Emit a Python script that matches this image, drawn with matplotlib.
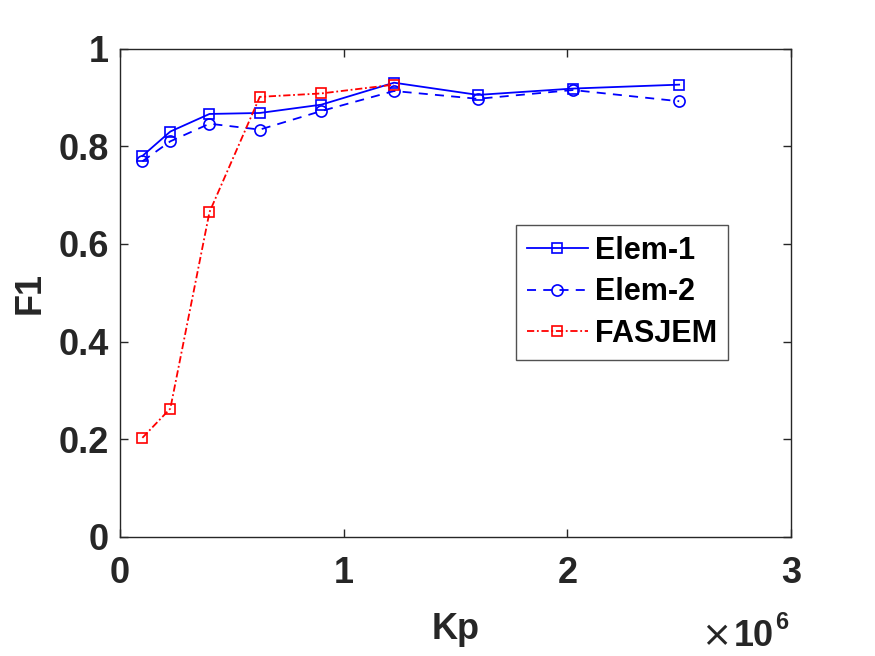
import matplotlib
matplotlib.use("Agg")
import matplotlib.pyplot as plt
from matplotlib.ticker import FixedLocator, FuncFormatter

plt.rcParams['font.family'] = ['Liberation Sans', 'DejaVu Sans']
plt.rcParams['font.weight'] = 'bold'

kp = [1.0e5, 2.25e5, 4.0e5, 6.25e5, 9.0e5, 1.225e6, 1.6e6, 2.025e6, 2.5e6]
elem1 = [0.780, 0.830, 0.866, 0.868, 0.885, 0.930, 0.905, 0.918, 0.926]
elem2 = [0.769, 0.810, 0.846, 0.834, 0.872, 0.913, 0.897, 0.915, 0.892]
kp_fasjem = [1.0e5, 2.25e5, 4.0e5, 6.25e5, 9.0e5, 1.225e6]
fasjem = [0.203, 0.263, 0.665, 0.901, 0.908, 0.926]

xticks = [0, 1e6, 2e6, 3e6]
yticks = [0, 0.2, 0.4, 0.6, 0.8, 1.0]

W, H = 875, 656
fig = plt.figure(figsize=(W / 100, H / 100), dpi=100)
ax = fig.add_axes([120 / W, (H - 537) / H, (791 - 120) / W, (537 - 48.5) / H])

ax.plot(kp, elem1, color='#0000ff', linestyle='-', marker='s', markersize=7.5,
        markerfacecolor='none', markeredgewidth=1.2, linewidth=1.3, label='Elem-1')
ax.plot(kp, elem2, color='#0000ff', linestyle=(0, (5, 4)), marker='o', markersize=8,
        markerfacecolor='none', markeredgewidth=1.2, linewidth=1.3, label='Elem-2')
ax.plot(kp_fasjem, fasjem, color='#ff0000', linestyle=(0, (4, 1.5, 1, 1.5)), marker='s',
        markersize=7.5, markerfacecolor='none', markeredgewidth=1.2, linewidth=1.3,
        label='FASJEM')

ax.set_xlim(0, 3e6)
ax.set_ylim(0, 1)
ax.xaxis.set_major_locator(FixedLocator(xticks))
ax.xaxis.set_major_formatter(FuncFormatter(lambda v, p: '%g' % (v / 1e6)))
ax.yaxis.set_major_locator(FixedLocator(yticks))
ax.yaxis.set_major_formatter(FuncFormatter(lambda v, p: '%g' % v))

axcol = '#262626'
for s in ax.spines.values():
    s.set_color(axcol)
    s.set_linewidth(1.0)
ax.tick_params(direction='in', length=6, width=1.0, colors=axcol, labelsize=26,
               top=True, right=True)
ax.tick_params(axis='x', pad=14)
ax.tick_params(axis='y', pad=8)
for lab in ax.get_xticklabels() + ax.get_yticklabels():
    lab.set_fontweight('bold')

ax.set_xlabel('Kp', fontsize=26, fontweight='bold', color=axcol, labelpad=15)
ax.set_ylabel('F1', fontsize=26, fontweight='bold', color=axcol, labelpad=8)

# exponent label (x 10^6)
fig.text(731 / W, (H - 646) / H, '\u00d7', fontsize=26, fontweight='normal',
         family='DejaVu Sans', color=axcol, ha='right', va='baseline')
fig.text(734 / W, (H - 646) / H, '10', fontsize=26, fontweight='bold',
         color=axcol, ha='left', va='baseline')
fig.text(775 / W, (H - 629) / H, '6', fontsize=17, fontweight='bold',
         color=axcol, ha='left', va='baseline')

leg = ax.legend(loc='upper left', bbox_to_anchor=((516 - 120) / 671, (537 - 225) / 488.5),
                fontsize=22, frameon=True, fancybox=False, handlelength=2.0,
                handletextpad=0.25, borderpad=0.35, labelspacing=0.38, borderaxespad=0)
leg.get_frame().set_edgecolor(axcol)
leg.get_frame().set_linewidth(1.0)
for t in leg.get_texts():
    t.set_fontweight('bold')

fig.savefig('out.png', dpi=100)
